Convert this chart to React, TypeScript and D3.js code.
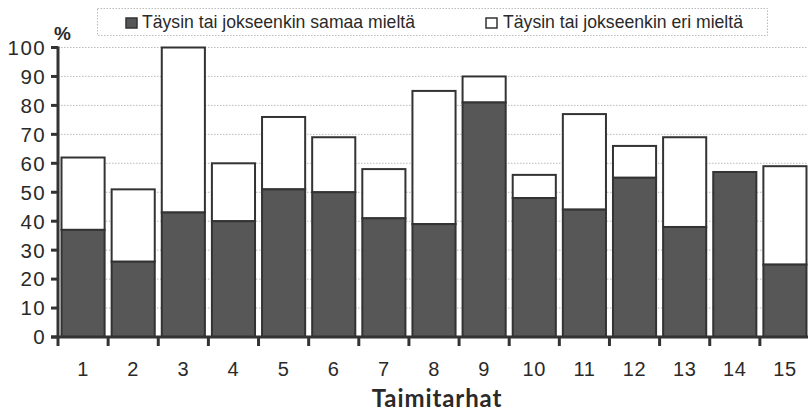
import React from "react";
import * as d3 from "d3";

const categories = ["1", "2", "3", "4", "5", "6", "7", "8", "9", "10", "11", "12", "13", "14", "15"];
const agree = [37, 26, 43, 40, 51, 50, 41, 39, 81, 48, 44, 55, 38, 57, 25];
const disagree = [25, 25, 57, 20, 25, 19, 17, 46, 9, 8, 33, 11, 31, 0, 34];
const yTicks = [0, 10, 20, 30, 40, 50, 60, 70, 80, 90, 100];
const seriesNames = ["Täysin tai jokseenkin samaa mieltä", "Täysin tai jokseenkin eri mieltä"];

const W = 808;
const H = 411;
const DARK = "#575757";
const INK = "#333";

export default function App() {
  const x = d3.scaleBand<string>().domain(categories).range([58, 810]).paddingInner(0.14).paddingOuter(0.07);
  const y = d3.scaleLinear().domain([0, 100]).range([337, 47.5]);
  const step = x.step();
  const rows = categories.map((c, i) => ({ c, a: agree[i], d: disagree[i] }));
  const font = "'Liberation Sans', Arial, sans-serif";

  return (
    <svg width={W} height={H} style={{ position: "absolute", left: 0, top: 0, background: "#fff" }}>
      {/* gridlines */}
      {yTicks.map((t) => (
        <line key={"g" + t} x1={58} x2={W} y1={y(t)} y2={y(t)} stroke="#bbb" strokeWidth={1} strokeDasharray="1.5 1.5" />
      ))}

      {/* stacked bars */}
      {rows.map((r) => {
        const bx = x(r.c)!;
        const bw = x.bandwidth();
        return (
          <g key={r.c}>
            {r.d > 0 && (
              <rect x={bx} y={y(r.a + r.d)} width={bw} height={y(r.a) - y(r.a + r.d)} fill="#fff" stroke={INK} strokeWidth={2} />
            )}
            <rect x={bx} y={y(r.a)} width={bw} height={y(0) - y(r.a)} fill={DARK} stroke={INK} strokeWidth={2} />
          </g>
        );
      })}

      {/* y axis */}
      <line x1={58} x2={58} y1={y(100) - 1} y2={y(0) + 1} stroke={INK} strokeWidth={3} />
      {yTicks.map((t) => (
        <g key={"y" + t}>
          <line x1={51} x2={58} y1={y(t)} y2={y(t)} stroke={INK} strokeWidth={3} />
          <text x={46} y={y(t)} dy="0.36em" textAnchor="end" fontFamily={font} fontSize={20.5} fill="#2a2a2a" letterSpacing={1.4}>
            {t}
          </text>
        </g>
      ))}
      <text x={54} y={40} fontFamily={font} fontSize={19} fontWeight="bold" fill="#2a2a2a">%</text>

      {/* x axis */}
      <line x1={51} x2={W} y1={y(0)} y2={y(0)} stroke={INK} strokeWidth={3} />
      {categories.map((c, i) => (
        <line key={"xt" + c} x1={58 + i * step} x2={58 + i * step} y1={y(0)} y2={y(0) + 9} stroke={INK} strokeWidth={3} />
      ))}
      {categories.map((c) => (
        <text key={"xl" + c} x={x(c)! + x.bandwidth() / 2} y={376} textAnchor="middle" fontFamily={font} fontSize={20} fill="#2a2a2a" letterSpacing={0.6}>
          {c}
        </text>
      ))}
      <text x={437} y={407} textAnchor="middle" fontFamily="Lato, 'Open Sans', sans-serif" fontWeight="bold" fontSize={24} fill="#2a2a2a" letterSpacing={0.9}>
        Taimitarhat
      </text>

      {/* legend */}
      <rect x={97.5} y={8.5} width={670} height={27} fill="#fff" stroke="#bbb" strokeWidth={1} strokeDasharray="1.5 1.5" />
      <rect x={126} y={18} width={11} height={10} fill={DARK} stroke={INK} strokeWidth={1.5} />
      <text x={142} y={28} fontFamily={font} fontSize={18.5} fill="#2a2a2a" textLength={273} lengthAdjust="spacingAndGlyphs">
        {seriesNames[0]}
      </text>
      <rect x={486} y={18} width={11} height={10} fill="#fff" stroke={INK} strokeWidth={1.5} />
      <text x={503} y={28} fontFamily={font} fontSize={18.5} fill="#2a2a2a" textLength={240} lengthAdjust="spacingAndGlyphs">
        {seriesNames[1]}
      </text>
    </svg>
  );
}
